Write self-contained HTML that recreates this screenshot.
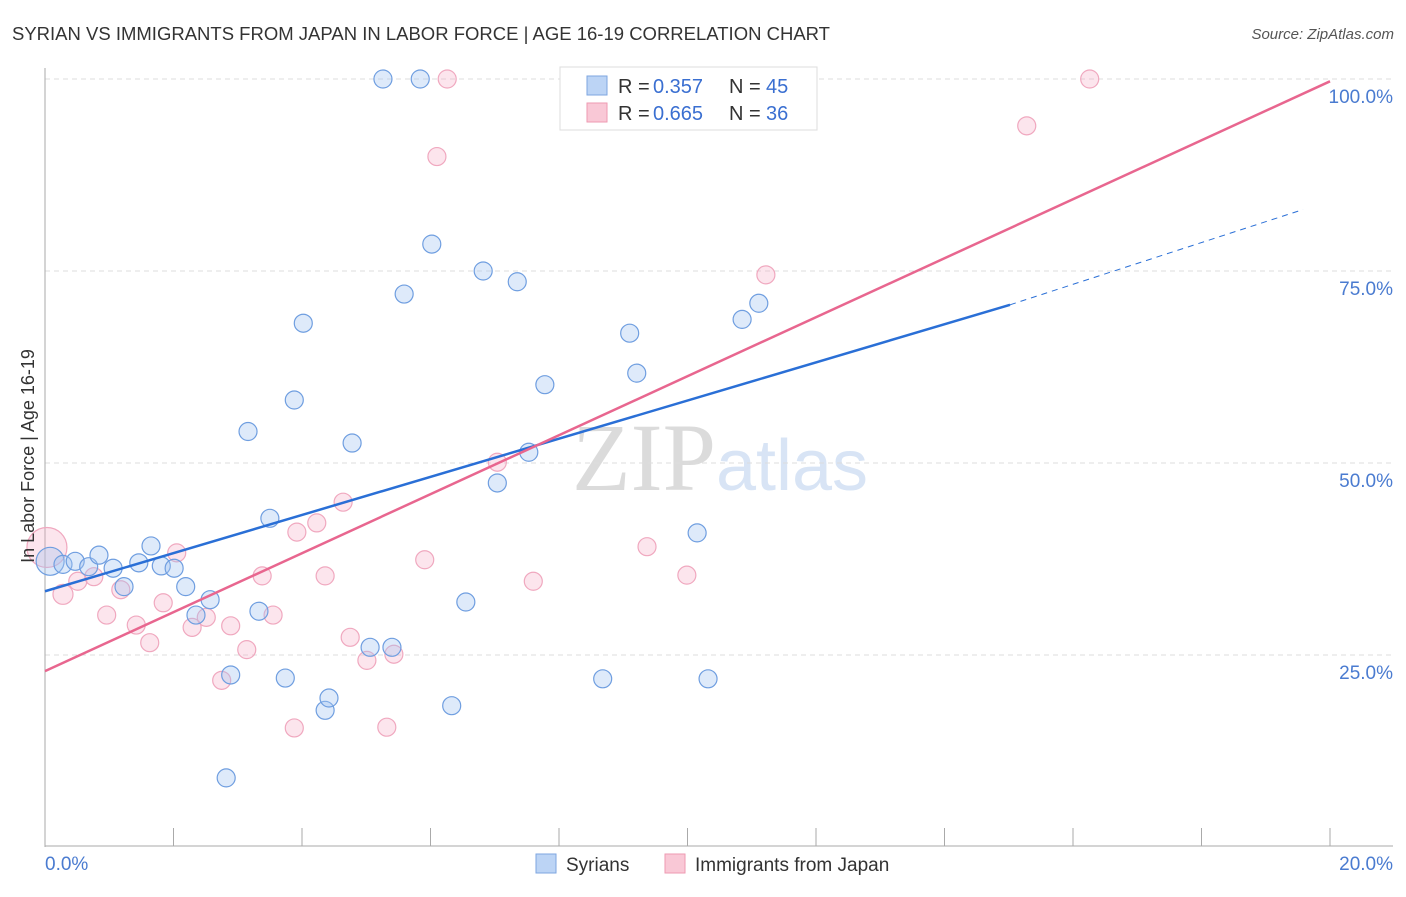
<!DOCTYPE html>
<html><head><meta charset="utf-8"><style>
body{margin:0;background:#fff;font-family:"Liberation Sans",sans-serif}
</style></head><body>
<svg id="chart" width="1406" height="892" xmlns="http://www.w3.org/2000/svg" font-family="Liberation Sans, sans-serif">
<text x="12" y="40" font-size="18" fill="#333" textLength="818" lengthAdjust="spacingAndGlyphs">SYRIAN VS IMMIGRANTS FROM JAPAN IN LABOR FORCE | AGE 16-19 CORRELATION CHART</text>
<text x="1394" y="39" font-size="15" fill="#555" text-anchor="end" font-style="italic">Source: ZipAtlas.com</text>
<text x="720" y="490" font-size="96" text-anchor="middle" fill="#ddd" opacity="0.7"><tspan font-family="Liberation Serif, serif" fill="#ccc">ZIP</tspan><tspan font-size="72" fill="#c8daf2">atlas</tspan></text>
<g id="grid"></g>
<g id="axes"></g>
<g id="marks"></g>
<text transform="translate(34,456) rotate(-90)" font-size="18" fill="#333" text-anchor="middle">In Labor Force | Age 16-19</text>
<g>
<rect x="560" y="67" width="257" height="63" fill="#fff" stroke="#ddd"/>
<rect x="587" y="76" width="20" height="19" fill="#bcd4f5" stroke="#7ea6e0"/>
<rect x="587" y="103" width="20" height="19" fill="#f9c8d6" stroke="#ee9ab2"/>
<text x="618" y="93" font-size="20" fill="#333">R =</text><text x="653" y="93" font-size="20" fill="#3a6fd1">0.357</text>
<text x="729" y="93" font-size="20" fill="#333">N =</text><text x="766" y="93" font-size="20" fill="#3a6fd1">45</text>
<text x="618" y="120" font-size="20" fill="#333">R =</text><text x="653" y="120" font-size="20" fill="#3a6fd1">0.665</text>
<text x="729" y="120" font-size="20" fill="#333">N =</text><text x="766" y="120" font-size="20" fill="#3a6fd1">36</text>
</g>
<g>
<rect x="536" y="854" width="20" height="19" fill="#bcd4f5" stroke="#7ea6e0"/>
<text x="566" y="871" font-size="19" fill="#333">Syrians</text>
<rect x="665" y="854" width="20" height="19" fill="#f9c8d6" stroke="#ee9ab2"/>
<text x="695" y="871" font-size="19" fill="#333">Immigrants from Japan</text>
</g>
</svg>
<script>
const yTicks=[25,50,75,100];
const yTickLabels=["25.0%","50.0%","75.0%","100.0%"];
const xTickLabels=["0.0%","20.0%"];
const syrX=[0.08,0.28,0.47,0.68,0.84,1.06,1.23,1.46,1.65,1.81,2.01,2.19,2.35,2.57,2.89,2.82,3.16,3.33,3.50,3.74,3.88,4.02,4.36,4.42,4.78,5.06,5.40,5.26,5.84,5.59,6.02,6.33,6.55,6.82,7.04,7.35,7.53,7.78,8.68,9.10,9.21,10.15,10.32,10.85,11.11];
const syrY=[37.2,36.8,37.2,36.5,38.0,36.3,33.9,37.0,39.2,36.6,36.3,33.9,30.2,32.2,22.4,9.0,54.1,30.7,42.8,22.0,58.2,68.2,17.8,19.4,52.6,26.0,26.0,100,100,72.0,78.5,18.4,31.9,75.0,47.4,73.6,51.4,60.2,21.9,66.9,61.7,40.9,21.9,68.7,70.8];
const syrR=[14,9,9,9,9,9,9,9,9,9,9,9,9,9,9,9,9,9,9,9,9,9,9,9,9,9,9,9,9,9,9,9,9,9,9,9,9,9,9,9,9,9,9,9,9];
const jpX=[0.03,0.28,0.51,0.76,0.96,1.18,1.42,1.63,1.84,2.05,2.29,2.51,2.75,2.89,3.14,3.38,3.55,3.92,3.88,4.23,4.36,4.64,4.75,5.01,5.32,5.43,5.91,6.10,6.26,7.04,7.60,9.37,9.99,11.22,15.28,16.26];
const jpY=[39.0,32.9,34.6,35.2,30.2,33.5,28.9,26.6,31.8,38.3,28.6,29.9,21.7,28.8,25.7,35.3,30.2,41.0,15.5,42.2,35.3,44.9,27.3,24.3,15.6,25.1,37.4,89.9,100,50.1,34.6,39.1,35.4,74.5,93.9,100];
const jpR=[20,10,9,9,9,9,9,9,9,9,9,9,9,9,9,9,9,9,9,9,9,9,9,9,9,9,9,9,9,9,9,9,9,9,9,9];
const syrTrend=[33.3,70.6,83.0];
const syrTrendX=[0,15.02,19.58];
const jpTrend=[22.9,99.7];
const jpTrendX=[0,20];
const NS="http://www.w3.org/2000/svg";
const X=v=>45+v/20*1285, Y=v=>847-v/100*768;
function mk(tag,attrs,parent){const e=document.createElementNS(NS,tag);for(const k in attrs)e.setAttribute(k,attrs[k]);document.getElementById(parent).appendChild(e);return e;}
yTicks.forEach((t,i)=>{
 const g=mk('line',{x1:45,x2:1393,y1:Y(t),y2:Y(t),stroke:'#ddd','stroke-dasharray':'5,4'},'grid');
 
 
 const l=mk('text',{x:1393,y:Y(t)+24,'font-size':19,fill:'#4a7bd0','text-anchor':'end'},'axes');
 l.textContent=yTickLabels[i];
 
 
});
const ya=mk('line',{x1:45,x2:45,y1:68,y2:847,stroke:'#aaa'},'axes');


const xa=mk('line',{x1:45,x2:1393,y1:846,y2:846,stroke:'#aaa'},'axes');


for(let i=1;i<=10;i++){const t=mk('line',{x1:X(i*2),x2:X(i*2),y1:828,y2:846,stroke:'#aaa'},'axes');
 
 }
[[0,'start',45],[20,'end',1393]].forEach((a,i)=>{const l=mk('text',{x:a[2],y:870,'font-size':19,fill:'#4a7bd0','text-anchor':a[1]},'axes');l.textContent=xTickLabels[i];
 
 });
jpX.forEach((v,i)=>{const c=mk('circle',{cx:X(v),cy:Y(jpY[i]),r:jpR[i],fill:'rgba(245,170,195,0.3)',stroke:'#f0a8bf','stroke-width':1.2},'marks');
 
 });
syrX.forEach((v,i)=>{const c=mk('circle',{cx:X(v),cy:Y(syrY[i]),r:syrR[i],fill:'rgba(160,195,240,0.35)',stroke:'#6f9ee0','stroke-width':1.2},'marks');
 
 });
const t1=mk('line',{x1:X(syrTrendX[0]),y1:Y(syrTrend[0]),x2:X(syrTrendX[1]),y2:Y(syrTrend[1]),stroke:'#2a6fd6','stroke-width':2.5},'marks');


const t2=mk('line',{x1:X(syrTrendX[1]),y1:Y(syrTrend[1]),x2:X(syrTrendX[2]),y2:Y(syrTrend[2]),stroke:'#2a6fd6','stroke-width':1,'stroke-dasharray':'6,5'},'marks');


const t3=mk('line',{x1:X(jpTrendX[0]),y1:Y(jpTrend[0]),x2:X(jpTrendX[1]),y2:Y(jpTrend[1]),stroke:'#e8668f','stroke-width':2.5},'marks');


</script>
</body></html>
